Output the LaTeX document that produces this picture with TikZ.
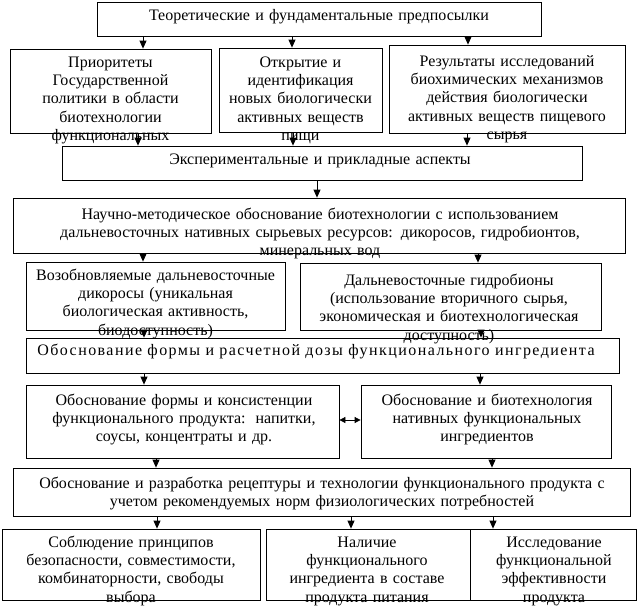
\documentclass[tikz,border=0pt]{standalone}
\usepackage{fontspec}
\setmainfont{Liberation Serif}
\newfontfamily\spacedfont[LetterSpace=9]{Liberation Serif}
\usetikzlibrary{arrows.meta,fit}
\begin{document}
\begin{tikzpicture}[x=1pt,y=-1pt,
  box/.style={draw, line width=0.8pt, inner sep=0pt, rectangle},
  txt/.style={anchor=base, align=center, text width=620pt, inner sep=0pt,
    font=\fontsize{16}{18.4}\selectfont},
  arr/.style={line width=0.8pt, -{Triangle[width=7pt,length=8pt]}},
  darr/.style={line width=0.8pt, {Triangle[width=6pt,length=6pt]}-{Triangle[width=6pt,length=6pt]}}]
\useasboundingbox (0,0) rectangle (640,608);
% boxes
\node[box, fit={(97,2)(541,36)}] (T) {};
\node[box, fit={(10,49)(211,133)}] (A) {};
\node[box, fit={(219,48)(382,132)}] (B) {};
\node[box, fit={(389,45)(625,133)}] (C) {};
\node[box, fit={(62,146)(582,180)}] (X) {};
\node[box, fit={(13,198)(625,253)}] (N) {};
\node[box, fit={(26,262)(285,330)}] (D) {};
\node[box, fit={(300,263)(601,330)}] (G) {};
\node[box, fit={(26,338)(619,373)}] (E) {};
\node[box, fit={(26,385)(339,458)}] (F) {};
\node[box, fit={(361,385)(611,458)}] (H) {};
\node[box, fit={(13,468)(630,516)}] (I) {};
\node[box, fit={(2,529)(260,600)}] (J) {};
\node[box, fit={(266,529)(470,600)}] (K) {};
\node[box, fit={(470,529)(636,600)}] (L) {};
% texts
\node[txt] (tT) at (319,20) {Теоретические и фундаментальные предпосылки};
\node[txt] (tA) at (110.5,67) {Приоритеты\\Государственной\\политики в области\\биотехнологии\\функциональных};
\node[txt] (tB) at (300.5,67) {Открытие и\\идентификация\\новых биологически\\активных веществ\\пищи};
\node[txt] (tC) at (507,66) {Результаты исследований\\биохимических механизмов\\действия биологически\\активных веществ пищевого\\сырья};
\node[txt] (tX) at (320,164) {Экспериментальные и прикладные аспекты};
\node[txt] (tN) at (320,219) {Научно-методическое обоснование биотехнологии с использованием\\дальневосточных нативных сырьевых ресурсов: дикоросов, гидробионтов,\\минеральных вод};
\node[txt] (tD) at (155.5,280) {Возобновляемые дальневосточные\\дикоросы (уникальная\\биологическая активность,\\биодоступность)};
\node[txt] (tG) at (449,285) {Дальневосточные гидробионы\\(использование вторичного сырья,\\экономическая и биотехнологическая\\доступность)};
\node[txt] (tE) at (316,355) {\spacedfont Обоснование формы и расчетной дозы функционального ингредиента};
\node[txt] (tF) at (184,405) {Обоснование формы и консистенции\\функционального продукта:\hspace{2pt} напитки,\\соусы, концентраты и др.};
\node[txt] (tH) at (487,405) {Обоснование и биотехнология\\нативных функциональных\\ингредиентов};
\node[txt] (tI) at (322,488) {Обоснование и разработка рецептуры и технологии функционального продукта с\\учетом рекомендуемых норм физиологических потребностей};
\node[txt] (tJ) at (131,547) {Соблюдение принципов\\безопасности, совместимости,\\комбинаторности, свободы\\выбора};
\node[txt] (tK) at (367,547) {Наличие\\функционального\\ингредиента в составе\\продукта питания};
\node[txt] (tL) at (554,547) {Исследование\\функциональной\\эффективности\\продукта};
% arrow columns
\coordinate (a1) at (143,0);
\coordinate (a2) at (292,0);
\coordinate (a3) at (468,0);
\coordinate (b1) at (138,0);
\coordinate (b2) at (293,0);
\coordinate (b3) at (467,0);
\coordinate (c1) at (317,0);
\coordinate (d1) at (143,0);
\coordinate (d2) at (478,0);
\coordinate (e1) at (144,0);
\coordinate (e2) at (481,0);
\coordinate (f1) at (144,0);
\coordinate (f2) at (480,0);
\coordinate (g1) at (156,0);
\coordinate (g2) at (492,0);
\coordinate (h1) at (157,0);
\coordinate (h2) at (351,0);
\coordinate (h3) at (493,0);
\coordinate (dy) at (0,420);
% connectors
\draw[arr] (a1 |- T.south) -- (a1 |- A.north);
\draw[arr] (a2 |- T.south) -- (a2 |- B.north);
\draw[arr] (a3 |- T.south) -- (a3 |- C.north);
\draw[arr] (b1 |- A.south) -- (b1 |- X.north);
\draw[arr] (b2 |- B.south) -- (b2 |- X.north);
\draw[arr] (b3 |- C.south) -- (b3 |- X.north);
\draw[arr] (c1 |- X.south) -- (c1 |- N.north);
\draw[arr] (d1 |- N.south) -- (d1 |- D.north);
\draw[arr] (d2 |- N.south) -- (d2 |- G.north);
\draw[arr] (e1 |- D.south) -- (e1 |- E.north);
\draw[arr] (e2 |- G.south) -- (e2 |- E.north);
\draw[arr] (f1 |- E.south) -- (f1 |- F.north);
\draw[arr] (f2 |- E.south) -- (f2 |- H.north);
\draw[darr] (F.east |- dy) -- (H.west |- dy);
\draw[arr] (g1 |- F.south) -- (g1 |- I.north);
\draw[arr] (g2 |- H.south) -- (g2 |- I.north);
\draw[arr] (h1 |- I.south) -- (h1 |- J.north);
\draw[arr] (h2 |- I.south) -- (h2 |- K.north);
\draw[arr] (h3 |- I.south) -- (h3 |- L.north);
\end{tikzpicture}
\end{document}
